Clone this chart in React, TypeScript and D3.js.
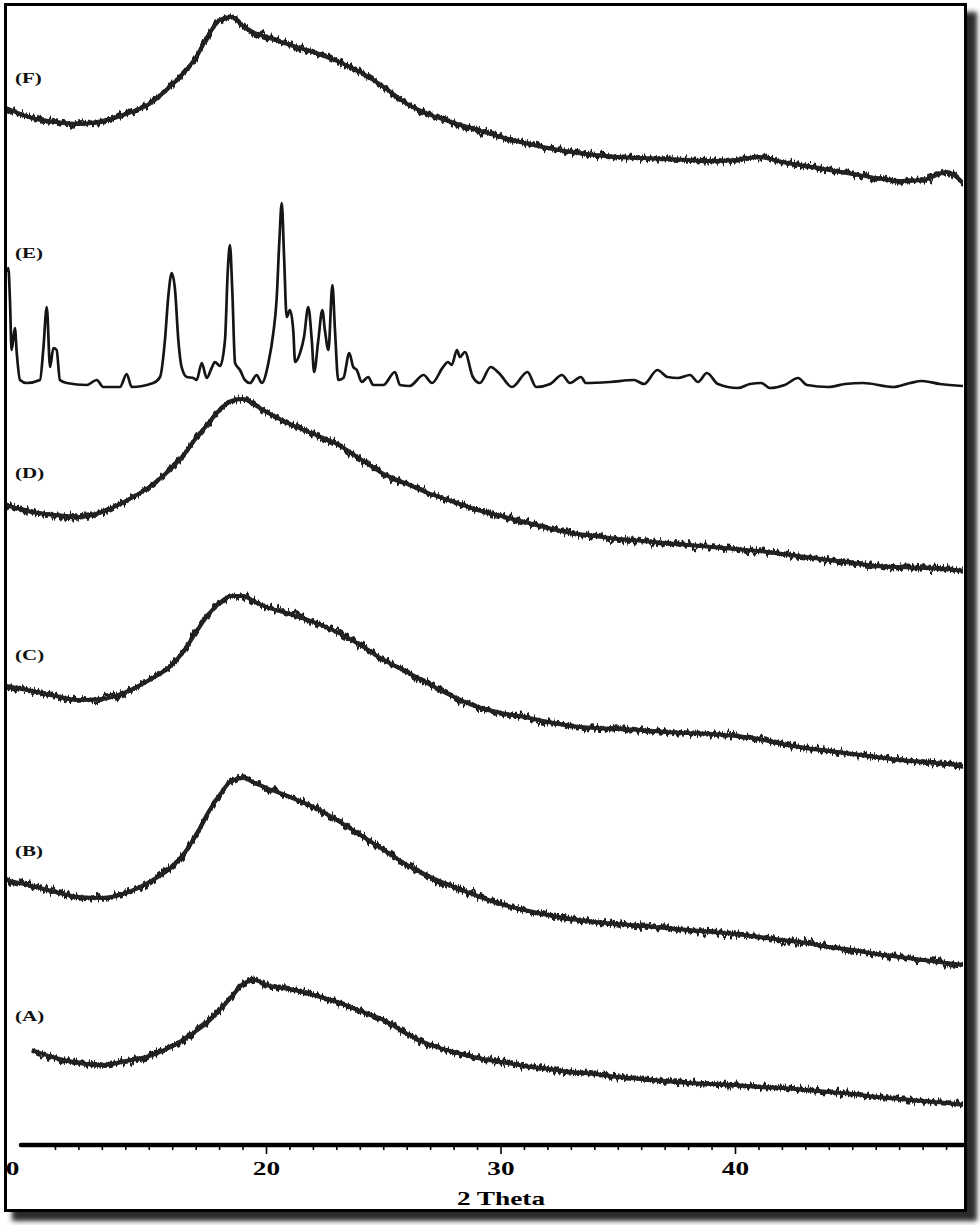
import React from "react";
import * as d3 from "d3";

// 2θ grid for the amorphous patterns
const THETA = [8.9, 10, 11, 12, 13, 14, 15, 16, 16.5, 17, 17.5, 18, 18.5, 19, 19.5, 20,
  21, 22, 23, 24, 25, 26, 27, 28, 29, 30, 31, 32, 33, 34, 35, 36, 37, 38, 39, 40,
  41, 42, 43, 44, 45, 46, 47, 48, 49, 49.7];

// stacked intensities (a.u.)
const F_VALUES = [1037, 1027, 1023, 1021, 1024, 1031, 1041, 1061, 1073, 1088, 1109, 1125, 1128, 1119, 1112, 1108,
  1100, 1093, 1084, 1073, 1058, 1041, 1030, 1022, 1015, 1008, 1002, 997, 993, 990, 988, 987, 986, 985, 984, 985,
  988, 983, 979, 975, 971, 967, 964, 965, 973, 962];
const D_VALUES = [640, 633, 630, 628, 633, 644, 658, 678, 691, 707, 721, 735, 744, 746, 740, 733,
  721, 711, 701, 686, 671, 661, 651, 643, 635, 629, 623, 617, 612, 609, 606, 604, 602, 600, 598, 596,
  594, 591, 588, 585, 582, 579, 578, 577, 576, 574];
const C_VALUES = [459, 454, 449, 445, 446, 453, 465, 481, 495, 513, 530, 542, 549, 549, 543, 538,
  531, 523, 513, 500, 485, 473, 460, 448, 438, 432, 428, 423, 419, 417, 416, 415, 413, 412, 411, 409,
  406, 401, 397, 394, 391, 388, 385, 383, 381, 379];
const B_VALUES = [265, 259, 253, 248, 247, 252, 263, 279, 292, 310, 332, 350, 364, 367, 362, 357,
  348, 338, 325, 310, 295, 280, 268, 258, 249, 241, 235, 230, 226, 223, 221, 219, 217, 215, 213, 211,
  208, 205, 202, 198, 195, 191, 188, 185, 182, 180];
const A_VALUES = [null, 95, 87, 82, 80, 84, 89, 99, 106, 114, 123, 135, 148, 161, 165, 160,
  156, 150, 143, 134, 125, 111, 100, 93, 87, 83, 79, 76, 73, 71, 68, 66, 64, 62, 61, 60,
  58, 57, 55, 53, 51, 48, 46, 44, 42, 40];

// crystalline pattern (E)
const E_THETA = [8.93, 8.99, 9.06, 9.13, 9.27, 9.35, 9.49, 9.77, 10.34, 10.48, 10.63, 10.77, 10.91, 11.05, 11.19,
  11.48, 12.33, 12.76, 13.04, 13.75, 14.04, 14.25, 15.17, 15.46, 15.67, 15.81, 15.96, 16.1, 16.24, 16.38, 16.6,
  16.88, 17.02, 17.24, 17.45, 17.66, 17.8, 18.02, 18.23, 18.35, 18.44, 18.54, 18.66, 18.87, 19.08, 19.3, 19.58,
  19.8, 20.08, 20.29, 20.43, 20.55, 20.65, 20.75, 20.86, 21.0, 21.14, 21.22, 21.43, 21.6, 21.78, 21.93, 22.03,
  22.21, 22.38, 22.49, 22.64, 22.81, 22.92, 23.06, 23.28, 23.53, 23.7, 23.85, 24.06, 24.34, 24.55, 24.98, 25.48,
  25.69, 26.1, 26.7, 27.06, 27.53, 27.74, 27.9, 28.12, 28.25, 28.46, 28.8, 29.1, 29.56, 29.91, 30.47, 31.13,
  31.5, 32.1, 32.6, 32.94, 33.41, 33.62, 34.65, 35.67, 36.1, 36.67, 37.1, 37.55, 38.06, 38.4, 38.78, 39.25,
  40.09, 40.62, 41.1, 41.47, 42.1, 42.67, 43.05, 43.97, 44.67, 45.44, 46.74, 47.44, 47.95, 48.72, 49.7];
const E_VALUES = [873, 877, 845, 795, 817, 792, 765, 762, 765, 795, 838, 778, 797, 795, 765,
  762, 760, 765, 758, 758, 771, 758, 762, 768, 805, 848, 872, 855, 805, 778, 768,
  767, 765, 782, 767, 777, 783, 779, 805, 875, 900, 855, 782, 775, 765, 762, 770,
  762, 782, 812, 845, 905, 942, 888, 828, 835, 815, 783, 792, 808, 838, 805, 773,
  805, 835, 815, 795, 860, 815, 765, 767, 792, 778, 775, 763, 768, 760, 760, 773,
  760, 759, 770, 762, 778, 783, 780, 795, 788, 793, 768, 762, 778, 772, 758, 773,
  758, 761, 770, 762, 768, 762, 763, 765, 761, 775, 768, 767, 770, 763, 772, 761,
  757, 761, 762, 757, 760, 767, 760, 758, 761, 762, 758, 762, 764, 761, 759];

const SERIES_LABELS = ["(F)", "(E)", "(D)", "(C)", "(B)", "(A)"];
const LABEL_LEVELS = [1065, 890, 670, 488, 292, 127];
const TICK_VALUES = [10, 20, 30, 40];
const TICK_LABELS = ["0", "20", "30", "40"];
const X_LABEL = "2 Theta";

const W = 980;
const H = 1225;

export default function App() {
  const x = d3.scaleLinear().domain([10, 40]).range([32, 735.5]);
  const y = d3.scaleLinear().domain([0, 1141]).range([1145, 4]);
  const plotLeft = 7;
  const plotRight = 963;
  const axisY = 1145;

  const line = d3
    .line<[number, number | null]>()
    .defined((d) => d[1] !== null)
    .x((d) => x(d[0]))
    .y((d) => y(d[1] as number))
    .curve(d3.curveMonotoneX);

  const amorphous = [F_VALUES, D_VALUES, C_VALUES, B_VALUES, A_VALUES].map((vals) =>
    line(THETA.map((t, i) => [t, vals[i]] as [number, number | null]))
  );
  const ePath = line(E_THETA.map((t, i) => [t, E_VALUES[i]] as [number, number]));

  const minorTicks = d3.range(11, 50).filter((v) => x(v) < plotRight - 2);

  const serif = "'Liberation Serif', 'Times New Roman', serif";

  return (
    <div style={{ position: "absolute", left: 0, top: 0, width: W, height: H, background: "#fff" }}>
      <svg width={W} height={H} viewBox={`0 0 ${W} ${H}`}>
        <defs>
          <filter id="shadow" x="-5%" y="-5%" width="110%" height="110%">
            <feGaussianBlur stdDeviation="2.5" />
          </filter>
          <filter id="noise" filterUnits="userSpaceOnUse" x="0" y="0" width={W} height={H}
            colorInterpolationFilters="sRGB">
            <feTurbulence type="fractalNoise" baseFrequency="0.3 0.012" numOctaves="2" seed="11" result="t" />
            <feColorMatrix in="t" type="matrix"
              values="0 0 0 0 0.5  0 1 0 0 0  0 0 0 0 0  0 0 0 0 1" result="m" />
            <feDisplacementMap in="SourceGraphic" in2="m" scale="15" xChannelSelector="R" yChannelSelector="G" />
          </filter>
          <filter id="noise2" filterUnits="userSpaceOnUse" x="0" y="0" width={W} height={H}
            colorInterpolationFilters="sRGB">
            <feTurbulence type="fractalNoise" baseFrequency="0.5 0.02" numOctaves="2" seed="29" result="t" />
            <feColorMatrix in="t" type="matrix"
              values="0 0 0 0 0.5  0 1 0 0 0  0 0 0 0 0  0 0 0 0 1" result="m" />
            <feDisplacementMap in="SourceGraphic" in2="m" scale="12" xChannelSelector="R" yChannelSelector="G" />
          </filter>
          <clipPath id="plotClip">
            <rect x={plotLeft} y={6} width={plotRight - plotLeft} height={1200} />
          </clipPath>
        </defs>

        <rect x={0} y={0} width={W} height={H} fill="#fff" />
        {/* drop shadow */}
        <rect x={12} y={12} width={965} height={1209} fill="#2a2a2a" filter="url(#shadow)" />
        <rect x={5.5} y={4.5} width={960} height={1206} fill="#fff" stroke="#000" strokeWidth={3} />

        <g clipPath="url(#plotClip)">
          {amorphous.map((d, i) => (
            <g key={i}>
              <path d={d || ""} fill="none" stroke="#2a2a2a" strokeWidth={4}
                strokeLinejoin="round" />
              <path d={d || ""} fill="none" stroke="#1c1c1c" strokeWidth={3.6}
                strokeLinejoin="round" filter="url(#noise)" />
              <path d={d || ""} fill="none" stroke="#222" strokeWidth={3.2}
                strokeLinejoin="round" filter="url(#noise2)" />
            </g>
          ))}
          <path d={ePath || ""} fill="none" stroke="#151515" strokeWidth={2.7} strokeLinejoin="round" />
        </g>

        {/* series labels */}
        {SERIES_LABELS.map((s, i) => (
          <text key={s} transform={`translate(15, ${y(LABEL_LEVELS[i])}) scale(1.4,1)`}
            fontFamily={serif} fontWeight="bold" fontSize={15} fill="#111" dominantBaseline="middle">
            {s}
          </text>
        ))}

        {/* x axis */}
        <line x1={21} x2={plotRight} y1={axisY} y2={axisY} stroke="#000" strokeWidth={4.5} strokeLinecap="round" />
        {minorTicks.map((v) => (
          <line key={v} x1={x(v)} x2={x(v)} y1={axisY} y2={TICK_VALUES.includes(v) ? axisY + 9 : axisY + 5}
            stroke="#000" strokeWidth={1.6} />
        ))}
        {TICK_VALUES.map((v, i) => (
          <text key={v}
            transform={`translate(${i === 0 ? 12.5 : x(v)}, 1175) scale(1.4,1)`}
            textAnchor="middle" fontFamily={serif} fontWeight="bold" fontSize={19.5} fill="#000">
            {TICK_LABELS[i]}
          </text>
        ))}
        <text transform="translate(501, 1205) scale(1.4,1)" textAnchor="middle" fontFamily={serif}
          fontWeight="bold" fontSize={19.5} fill="#000">
          {X_LABEL}
        </text>
      </svg>
    </div>
  );
}
